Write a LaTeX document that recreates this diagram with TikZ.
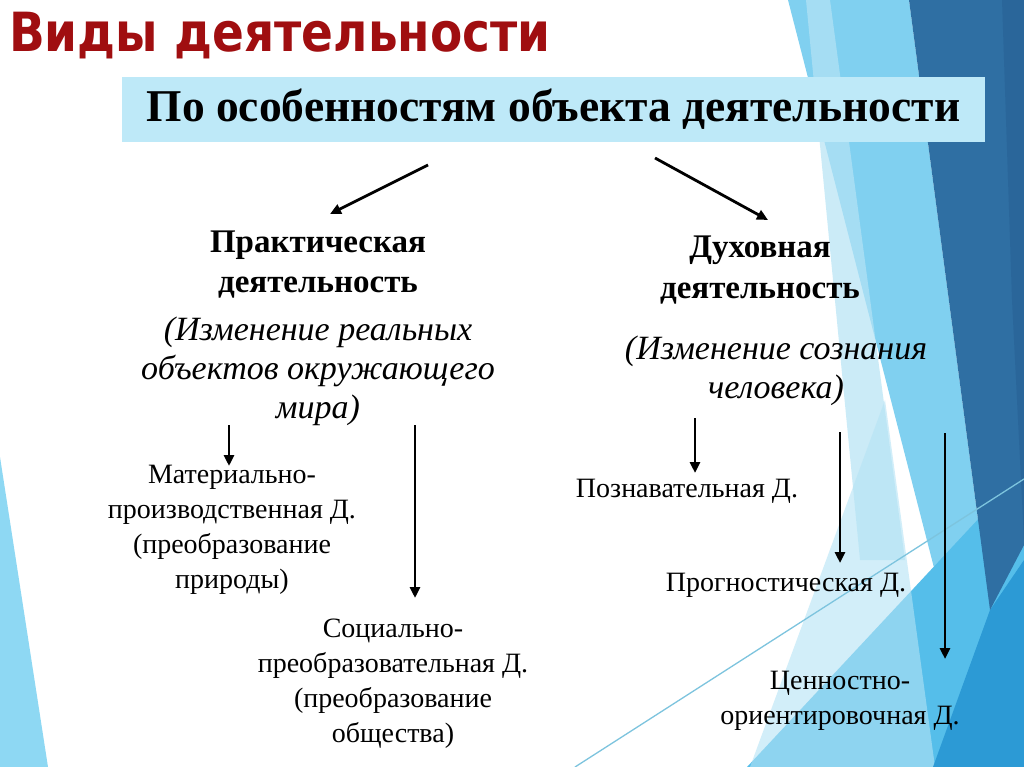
\documentclass[tikz,border=0pt]{standalone}
\usepackage{fontspec}
\setmainfont{Liberation Serif}
\newfontfamily\titlefont{DejaVu Sans}
\usetikzlibrary{arrows.meta}
\definecolor{titlered}{RGB}{160,14,16}
\definecolor{boxcyan}{RGB}{190,233,248}
\definecolor{lightblue}{RGB}{128,208,240}
\definecolor{paleblue}{RGB}{181,227,245}
\definecolor{darkblue}{RGB}{47,111,163}
\definecolor{darkerblue}{RGB}{42,102,154}
\definecolor{medblue}{RGB}{85,190,234}
\definecolor{deepmed}{RGB}{44,154,213}
\definecolor{leftblue}{RGB}{142,216,243}
\definecolor{thinline}{RGB}{125,196,222}
\begin{document}
\begin{tikzpicture}[x=1pt,y=-1pt,
  arr/.style={line width=2.8pt,-{Triangle[length=11pt,width=10pt]}},
  boldlbl/.style={font=\bfseries\fontsize{33}{40}\selectfont,align=center,inner sep=0pt,anchor=base},
  itlbl/.style={font=\itshape\fontsize{34}{39}\selectfont,align=center,inner sep=0pt,anchor=base},
  reglbl/.style={font=\fontsize{28}{34.7}\selectfont,align=center,inner sep=0pt,anchor=base}]
\useasboundingbox (0,0) rectangle (1024,767);
\fill[white] (0,0) rectangle (1024,767);
% background facets
\fill[lightblue] (788,0) -- (909,0) -- (990,610) -- (950,630) -- cycle;
\fill[paleblue,opacity=0.7] (806,0) -- (830,0) -- (905,560) -- (860,560) -- cycle;
\fill[medblue] (747,767) -- (1024,767) -- (1024,470) -- cycle;
\fill[paleblue,opacity=0.6] (885,400) -- (935,767) -- (750,767) -- cycle;
\fill[deepmed] (933,767) -- (1024,767) -- (1024,560) -- (990,610) -- cycle;
\fill[darkblue] (909,0) -- (1024,0) -- (1024,545) -- (990,610) -- cycle;
\fill[darkerblue] (1002,0) -- (1024,0) -- (1024,540) -- (1012,300) -- cycle;
\draw[thinline,line width=1.3pt] (575,767) -- (1024,479);
\fill[leftblue] (0,457) -- (48,767) -- (0,767) -- cycle;
% title
\node[anchor=base west,inner sep=0pt,font=\titlefont\bfseries\fontsize{54}{60}\selectfont,text=titlered] (title) at (9,52) {\scalebox{0.87}[1]{Виды деятельности}};
% heading box
\node[fill=boxcyan,minimum width=863pt,minimum height=65pt,inner sep=0pt,font=\bfseries\fontsize{45.5}{50}\selectfont] (head) at (553.5,109.5) {По особенностям объекта деятельности};
% main categories (anchor base = last line baseline)
\node[boldlbl] (prak) at (318,292) {Практическая\\деятельность};
\node[itlbl] (prakd) at (318,418) {(Изменение реальных\\объектов окружающего\\мира)};
\node[boldlbl] (duh) at (760,298) {Духовная\\деятельность};
\node[itlbl] (duhd) at (776,398) {(Изменение сознания\\человека)};
% subcategories
\node[reglbl] (mat) at (232,588) {Материально-\\производственная Д.\\(преобразование\\природы)};
\node[reglbl] (soc) at (393,742) {Социально-\\преобразовательная Д.\\(преобразование\\общества)};
\node[reglbl] (pozn) at (687,497) {Познавательная Д.};
\node[reglbl] (progn) at (786,591) {Прогностическая Д.};
\node[reglbl] (cenn) at (840,724) {Ценностно-\\ориентировочная Д.};
% connector ends
\coordinate (a1s) at (428,165); \coordinate (a1e) at (330,214);
\coordinate (a2s) at (655,158); \coordinate (a2e) at (768,220);
\coordinate (v1s) at (229,425); \coordinate (v1e) at (229,466);
\coordinate (v2s) at (415,425); \coordinate (v2e) at (415,598);
\coordinate (v3s) at (695,418); \coordinate (v3e) at (695,473);
\coordinate (v4s) at (840,432); \coordinate (v4e) at (840,563);
\coordinate (v5s) at (945,433); \coordinate (v5e) at (945,659);
\draw[arr] (a1s) -- (a1e);
\draw[arr] (a2s) -- (a2e);
\draw[arr] (v1s) -- (v1e);
\draw[arr] (v2s) -- (v2e);
\draw[arr] (v3s) -- (v3e);
\draw[arr] (v4s) -- (v4e);
\draw[arr] (v5s) -- (v5e);
\end{tikzpicture}
\end{document}
